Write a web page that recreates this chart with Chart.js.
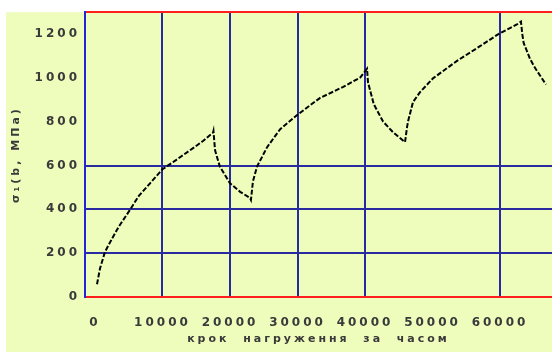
<!DOCTYPE html>
<html>
<head>
<meta charset="utf-8">
<script src="https://cdn.jsdelivr.net/npm/chart.js@4/dist/chart.umd.min.js"></script>
<style>
  html, body { margin: 0; padding: 0; background: #ffffff; }
  #wrap { width: 552px; height: 352px; position: relative; }
</style>
</head>
<body>
<div id="wrap"><canvas id="c" width="552" height="352"></canvas></div>
<script>
// Load step (time) and stress values along the curve
const loadStep = [300, 740, 1480, 2500, 3500, 5190, 6500, 8150, 10000, 12000, 14000, 16000, 17480, 17550,
  17700, 17800, 18500, 20000, 21500, 22960, 23100,
  23400, 24000, 25500, 27400, 30000, 33300, 36700, 39300, 40300,
  40440, 41300, 42670, 44150, 45930,
  46220, 46370, 47110, 48150, 50070, 53630, 57040, 59700, 62500, 62800, 63100,
  63300, 63500, 64440, 65200, 65930, 66800];
const stress = [58, 130, 206, 265, 320, 398, 462, 519, 583, 625, 668, 712, 750, 758,
  700, 668, 595, 519, 480, 452, 443,
  528, 595, 684, 765, 832, 908, 958, 1002, 1042,
  980, 880, 801, 752, 707,
  774, 801, 890, 935, 998, 1078, 1145, 1199, 1244, 1250, 1257,
  1200, 1160, 1087, 1045, 1011, 970];

// Axis ticks and the subset of them that carry a grid line
const xTicks = [0, 10000, 20000, 30000, 40000, 50000, 60000];
const yTicks = [0, 200, 400, 600, 800, 1000, 1200];
const xGrid = [10000, 20000, 30000, 40000, 60000];
const yGrid = [200, 400, 600];

const xTitle = 'крок  нагруження  за  часом';
const yTitle = 'σ\u2081(b, МПа)';

const PANEL = '#eefcbc';
const BLUE_GRID = '#2a2aa0';
const BLUE_AXIS = '#2424d8';
const RED = '#ff1e1e';
const TEXT = '#3a3a3a';

const points = loadStep.map((x, i) => ({ x: x, y: stress[i] }));

// Wide letter spacing for all text, plus the pale panel behind the plot
const spacing = {
  id: 'spacing',
  beforeLayout(chart) { chart.ctx.letterSpacing = '3px'; },
  beforeDraw(chart) {
    const ctx = chart.ctx;
    ctx.letterSpacing = '3px';
    ctx.save();
    ctx.fillStyle = PANEL;
    ctx.fillRect(6, chart.chartArea.top, chart.width - 6, chart.height - chart.chartArea.top);
    ctx.restore();
  }
};

const tickFont = { family: 'DejaVu Sans', size: 12, weight: 'bold' };
const titleFont = { family: 'DejaVu Sans', size: 11, weight: 'bold' };

new Chart(document.getElementById('c'), {
  type: 'line',
  data: {
    datasets: [{
      data: points,
      borderColor: '#000000',
      borderWidth: 2,
      borderDash: [5, 2],
      pointRadius: 0,
      tension: 0,
      fill: false
    }]
  },
  options: {
    responsive: false,
    animation: false,
    events: [],
    layout: { padding: { top: 7, right: 0, left: 0, bottom: 0 } },
    plugins: { legend: { display: false }, tooltip: { enabled: false } },
    scales: {
      x: {
        type: 'linear',
        position: 'bottom',
        min: -1480,
        max: 67700,
        afterBuildTicks: s => { s.ticks = xTicks.map(v => ({ value: v })); },
        afterFit: s => { s.height = 55; },
        ticks: { font: tickFont, color: TEXT, padding: 19, maxRotation: 0, autoSkip: false,
          callback: v => String(v) },
        grid: {
          drawTicks: false,
          lineWidth: 2,
          color: c => (c.tick && xGrid.includes(c.tick.value)) ? BLUE_GRID : 'rgba(0,0,0,0)'
        },
        border: { display: true, color: RED, width: 2 },
        title: { display: true, text: xTitle, font: titleFont, color: TEXT, padding: { top: 0, bottom: 6 } }
      },
      xTop: {
        type: 'linear',
        position: 'top',
        min: -1480,
        max: 67700,
        afterFit: s => { s.height = 0; },
        ticks: { display: false },
        grid: { display: false },
        border: { display: true, color: RED, width: 2 }
      },
      y: {
        type: 'linear',
        position: 'left',
        min: 0,
        max: 1300,
        afterBuildTicks: s => { s.ticks = yTicks.map(v => ({ value: v })); },
        afterFit: s => { s.width = 85; },
        ticks: { font: tickFont, color: TEXT, padding: 5, callback: v => String(v) },
        grid: {
          drawTicks: false,
          lineWidth: 2,
          color: c => (c.tick && yGrid.includes(c.tick.value)) ? BLUE_GRID : 'rgba(0,0,0,0)'
        },
        border: { display: true, color: BLUE_AXIS, width: 2 },
        title: { display: true, text: yTitle, font: titleFont, color: TEXT, padding: { top: 10, bottom: 0 } }
      }
    }
  },
  plugins: [spacing]
});
</script>
</body>
</html>
